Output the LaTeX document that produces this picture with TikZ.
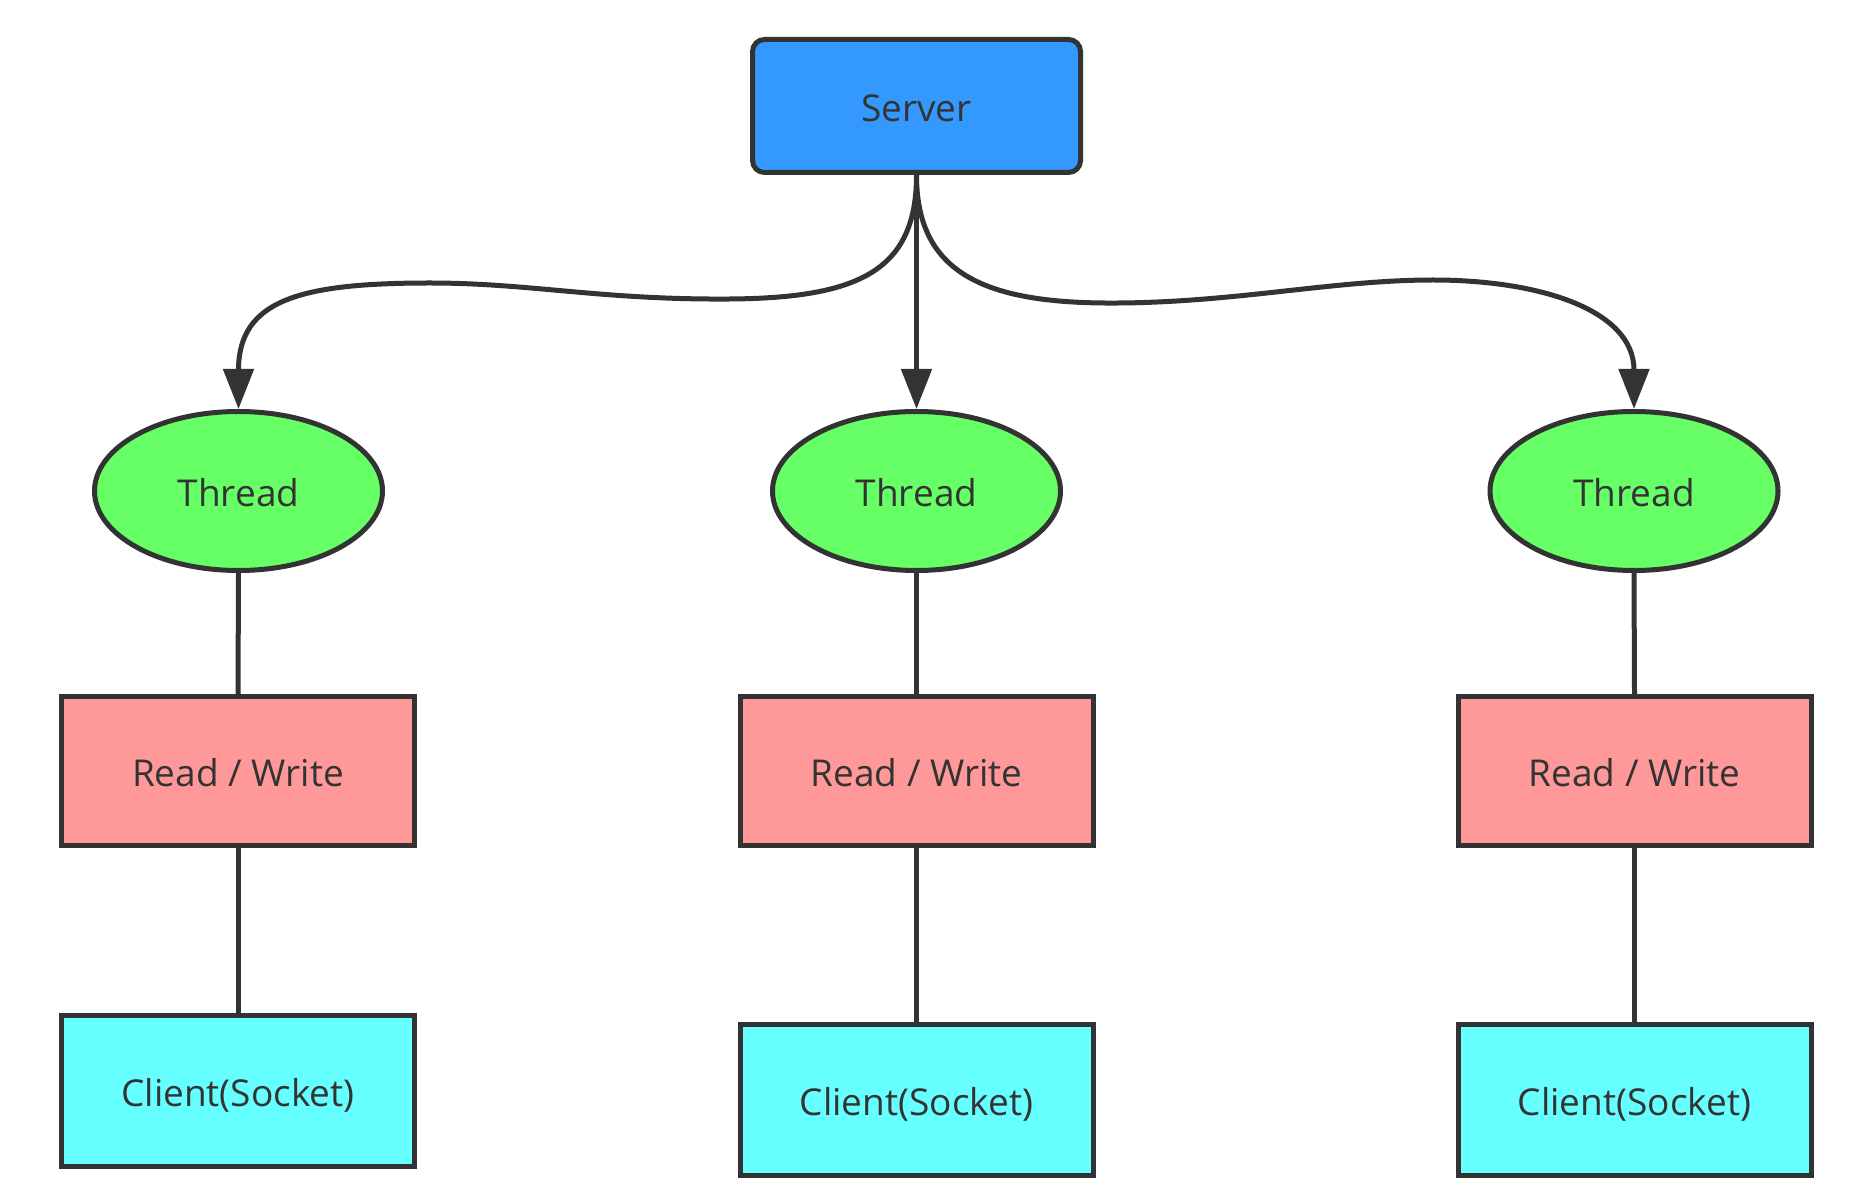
\documentclass[tikz,border=0pt]{standalone}
\usepackage{fontspec}
\setmainfont{Open Sans}
\usetikzlibrary{shapes.geometric,arrows.meta}
\definecolor{strk}{HTML}{333333}
\definecolor{srvfill}{HTML}{3399FF}
\definecolor{thrfill}{HTML}{66FF66}
\definecolor{rwfill}{HTML}{FF9999}
\definecolor{clifill}{HTML}{66FFFF}
\tikzset{
  base/.style={draw=strk, line width=2.5pt, text=strk, font=\fontsize{18.5}{22}\selectfont, inner sep=0pt, text height=15.5pt, text depth=0pt},
  srvbox/.style={base, fill=srvfill, rectangle, rounded corners=6pt, minimum width=164pt, minimum height=66.5pt},
  thrnode/.style={base, fill=thrfill, ellipse, minimum width=144pt, minimum height=79.5pt},
  rwbox/.style={base, fill=rwfill, rectangle, minimum width=176.5pt, minimum height=74.5pt},
  clibox/.style={base, fill=clifill, rectangle, minimum width=176.5pt, minimum height=75.5pt},
  link/.style={draw=strk, line width=2.5pt},
  arr/.style={link, -{Triangle[length=20pt,width=15pt]}},
}
\begin{document}
\begin{tikzpicture}[x=0.5pt,y=-0.5pt]
\useasboundingbox (0,0) rectangle (1858,1197);
\node[srvbox] (s) at (916.5,106) {Server};
\node[thrnode] (t1) at (238.5,491) {Thread};
\node[thrnode] (t2) at (916.5,491) {Thread};
\node[thrnode] (t3) at (1634,491) {Thread};
\node[rwbox] (r1) at (238,771) {Read / Write};
\node[rwbox] (r2) at (916.5,771) {Read / Write};
\node[rwbox] (r3) at (1634.5,771) {Read / Write};
\node[clibox] (c1) at (238,1091) {Client(Socket)};
\node[clibox] (c2) at (916.5,1099.5) {Client(Socket)};
\node[clibox] (c3) at (1634.5,1099.5) {Client(Socket)};
\draw[arr] (s.south) -- (t2.north);
\draw[arr] (s.south) .. controls (916.5,270) and (860,298) .. (730,299)
  .. controls (600,300) and (530,283) .. (430,283)
  .. controls (300,283) and (238.5,300) .. (t1.north);
\draw[arr] (s.south) .. controls (916.5,270) and (980,302) .. (1104,303)
  .. controls (1230,304) and (1330,280) .. (1433,280)
  .. controls (1540,280) and (1634,310) .. (t3.north);
\foreach \i in {1,2,3}{
  \draw[link] (t\i.south) -- (r\i.north);
  \draw[link] (r\i.south) -- (c\i.north);
}
\end{tikzpicture}
\end{document}
